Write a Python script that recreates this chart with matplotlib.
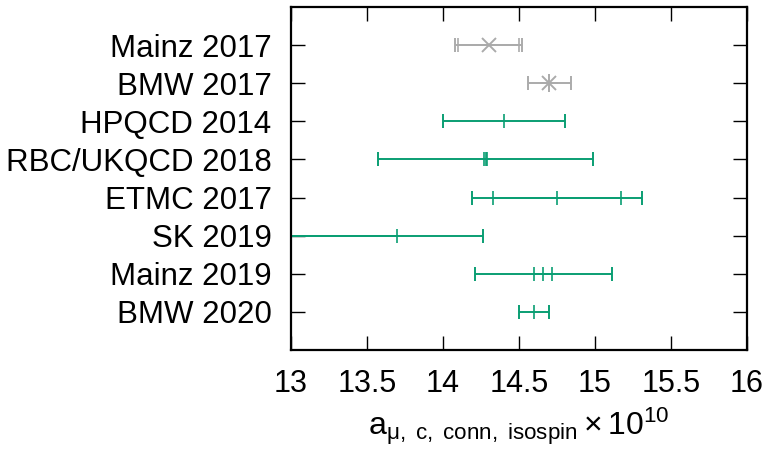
import matplotlib
matplotlib.use('Agg')
import matplotlib.pyplot as plt
import numpy as np

plt.rcParams['font.family'] = ['Liberation Sans', 'DejaVu Sans']
plt.rcParams['mathtext.fontset'] = 'custom'
plt.rcParams['mathtext.rm'] = 'Liberation Sans'
plt.rcParams['mathtext.it'] = 'Liberation Sans'

# collaborations, top to bottom
labels = ['Mainz 2017', 'BMW 2017', 'HPQCD 2014', 'RBC/UKQCD 2018',
          'ETMC 2017', 'SK 2019', 'Mainz 2019', 'BMW 2020']
# central values, inner (stat) error, total error
values = [14.30, 14.70, 14.40, 14.28, 14.75, 12.90, 14.66, 14.60]
err_in = [0.20, 0.00, 0.00, 0.01, 0.42, 0.80, 0.06, 0.00]
err_tot = [0.22, 0.14, 0.40, 0.71, 0.56, 1.36, 0.45, 0.10]
markers = ['x', '*', '|', '|', '|', '|', '|', '|']
old = [True, True, False, False, False, False, False, False]

green = '#0a9e73'
grey = '#ababab'

#width then height
fig = plt.figure(figsize=(7.67, 4.54), dpi=100)
ax = fig.add_axes([0.3794, 0.229, 0.9739 - 0.3794, 0.9846 - 0.229])

ypos = np.arange(len(labels), 0, -1)
for y, v, ei, et, m, o in zip(ypos, values, err_in, err_tot, markers, old):
    col = grey if o else green
    ax.errorbar(v, y, xerr=et, fmt='none', ecolor=col, elinewidth=1.4,
                capsize=4.7, capthick=1.4)
    if ei > 0:
        ax.errorbar(v, y, xerr=ei, fmt='none', ecolor=col, elinewidth=1.4,
                    capsize=4.7, capthick=1.2)
    if m == '*':
        ax.plot(v, y, marker='+', ms=13, mew=1.4, color=col, ls='none')
        ax.plot(v, y, marker='x', ms=10, mew=1.4, color=col, ls='none')
    elif m == 'x':
        ax.plot(v, y, marker='x', ms=10, mew=1.4, color=col, ls='none')
    else:
        ax.plot(v, y, marker='|', ms=9.4, mew=1.2, color=col, ls='none')

ax.set_xlim(13, 16)
ax.set_ylim(0, len(labels) + 1)
ax.set_xticks(np.arange(13, 16.01, 0.5))
ax.set_xticklabels(['13', '13.5', '14', '14.5', '15', '15.5', '16'])
ax.set_yticks(ypos)
ax.set_yticklabels(labels)
ax.tick_params(axis='both', direction='in', length=10, width=1.0,
               top=True, right=True)
ax.tick_params(axis='x', labelsize=22, pad=14)
ax.tick_params(axis='y', labelsize=22.5, pad=14)
for s in ax.spines.values():
    s.set_linewidth(1.6)

ax.set_xlabel(r'$\mathregular{a_{\mu,\ c,\ conn,\ isospin}\times10^{10}}$',
              fontsize=23, labelpad=4)

fig.savefig('out.png', dpi=100)
